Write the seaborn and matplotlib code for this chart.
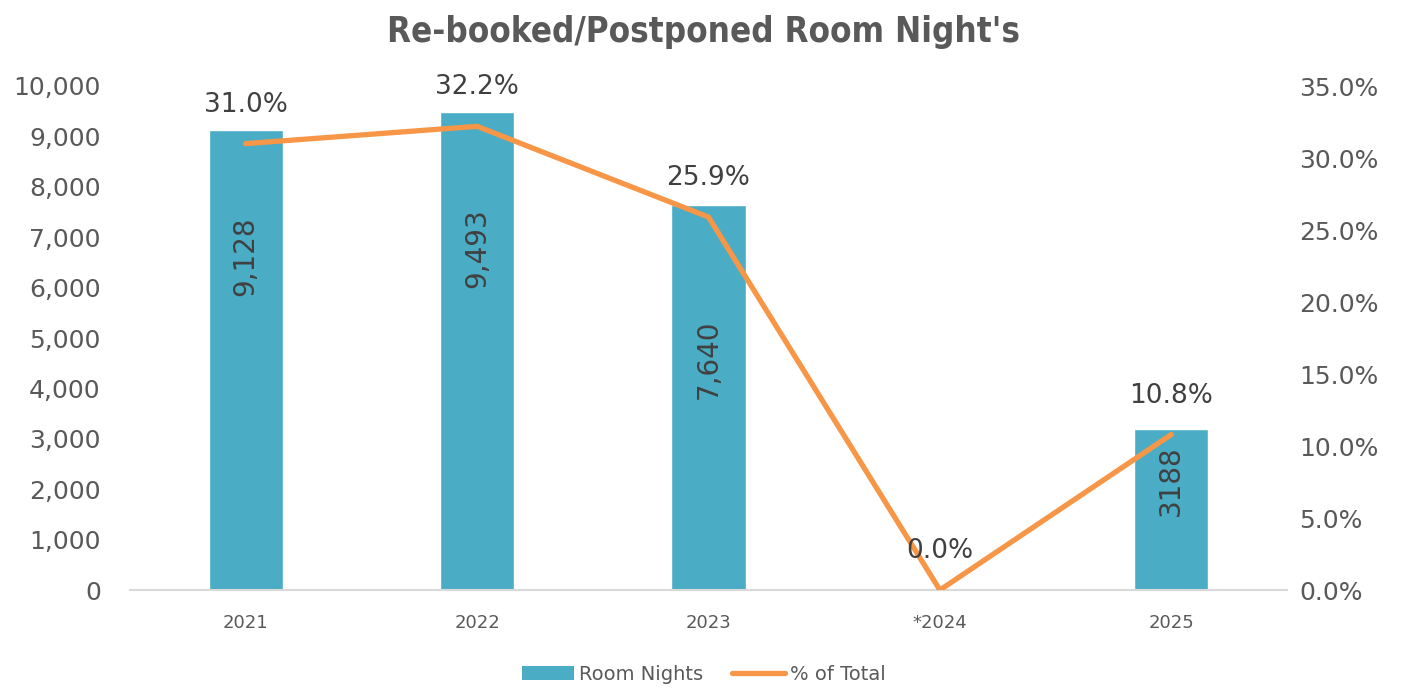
import numpy as np
import pandas as pd
import matplotlib
matplotlib.use("Agg")
import matplotlib.pyplot as plt
import seaborn as sns
from matplotlib.patches import Patch
from matplotlib.lines import Line2D
from matplotlib.ticker import FuncFormatter, MultipleLocator

years = ["2021", "2022", "2023", "*2024", "2025"]
room_nights = [9128, 9493, 7640, 0, 3188]
room_labels = ["9,128", "9,493", "7,640", "", "3188"]
pct_total = [0.310, 0.322, 0.259, 0.0, 0.108]

BAR = "#4BACC6"
LINE = "#F79646"
GREY = "#595959"
DARK = "#404040"

sns.set_theme(style="white")
plt.rcParams["font.family"] = ["DejaVu Sans"]

df = pd.DataFrame({"year": years, "rooms": room_nights, "pct": pct_total})

fig = plt.figure(figsize=(14.07, 6.88), dpi=100)
ax = fig.add_axes([0.0924, 0.1424, 0.8223, 0.7326])

sns.barplot(data=df, x="year", y="rooms", color=BAR, width=0.32,
            saturation=1, ax=ax)
ax.set_ylim(0, 10000)
ax.set_xlim(-0.5, len(years) - 0.5)
ax.yaxis.set_major_locator(MultipleLocator(1000))
ax.yaxis.set_major_formatter(FuncFormatter(lambda v, p: f"{int(v):,}"))
ax.set_xlabel("")
ax.set_ylabel("")
for s in ["top", "left", "right"]:
    ax.spines[s].set_visible(False)
ax.spines["bottom"].set_color("#d9d9d9")
ax.spines["bottom"].set_linewidth(1.5)
ax.tick_params(axis="y", labelsize=18, labelcolor=GREY, pad=21, length=0)
ax.tick_params(axis="x", labelsize=13, labelcolor=GREY, pad=17, length=0)

# rotated value labels inside the bars
label_frac = [0.725, 0.715, 0.60, 0.0, 0.68]
for i, (v, lab) in enumerate(zip(room_nights, room_labels)):
    if lab:
        ax.text(i, v * label_frac[i], lab, rotation=90, ha="center", va="center",
                fontsize=20, color=DARK)

ax2 = ax.twinx()
sns.lineplot(x=np.arange(len(years)), y=pct_total, color=LINE, linewidth=3.8,
             ax=ax2, solid_capstyle="round")
ax2.set_ylim(0, 0.35)
ax2.yaxis.set_major_locator(MultipleLocator(0.05))
ax2.yaxis.set_major_formatter(FuncFormatter(lambda v, p: f"{v*100:.1f}%"))
ax2.tick_params(axis="y", labelsize=18, labelcolor=GREY, pad=9, length=0)
for s in ["top", "left", "right", "bottom"]:
    ax2.spines[s].set_visible(False)
ax2.grid(False)
ax2.set_ylabel("")

for i, p in enumerate(pct_total):
    ax2.annotate(f"{p*100:.1f}%", (i, p), xytext=(0, 28), textcoords="offset points",
                 ha="center", va="center", fontsize=19, color=DARK)

fig.text(0.5, 0.953, "Re-booked/Postponed Room Night's", ha="center", va="center",
         fontsize=25, color=GREY, fontstretch="condensed", fontweight="bold")

handles = [Patch(facecolor=BAR, edgecolor="none", label="Room Nights"),
           Line2D([0], [0], color=LINE, linewidth=3.8, solid_capstyle="round",
                  label="% of Total")]
fig.legend(handles=handles, loc="center", bbox_to_anchor=(0.5, 0.02), ncol=2,
           frameon=False, fontsize=14, labelcolor=GREY, handlelength=2.7,
           handleheight=0.8, columnspacing=1.5, handletextpad=0.25)

fig.savefig("out.png", dpi=100)
